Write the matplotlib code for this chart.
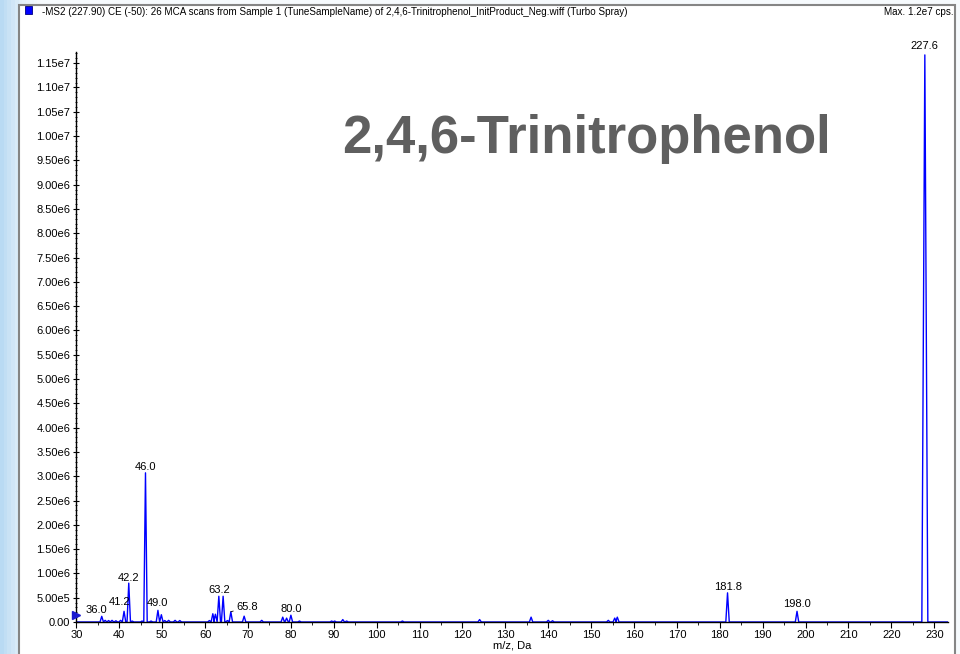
import numpy as np
import matplotlib
matplotlib.use('Agg')
import matplotlib.pyplot as plt
from matplotlib.ticker import MultipleLocator, FuncFormatter
from matplotlib.patches import Rectangle

plt.rcParams['font.family'] = ['Liberation Sans', 'DejaVu Sans']

# Picos do espectro (m/z, intensidade em cps)
pico_mz = [35.9, 36.7, 37.5, 38.3, 39.2, 40.3, 41.1, 42.2, 43.0, 45.3, 46.1, 47.4,
           49.0, 49.8, 50.6, 51.5, 53.0, 54.1, 61.0, 61.8, 62.4, 63.2, 64.2, 65.2,
           66.0, 69.1, 73.2, 78.1, 79.0, 80.0, 82.0, 89.5, 90.2, 92.1, 93.0, 106.0,
           124.0, 136.0, 140.0, 141.0, 154.0, 155.5, 156.1, 181.8, 198.0, 227.8]
pico_int = [1.17e5, 3.4e4, 3.0e4, 3.4e4, 2.5e4, 3.4e4, 2.2e5, 8.0e5, 2.0e4, 2.0e4, 3.07e6, 2.0e4,
            2.4e5, 1.5e5, 3.0e4, 3.4e4, 3.4e4, 3.0e4, 3.0e4, 1.7e5, 1.6e5, 5.3e5, 5.3e5, 3.0e4,
            2.1e5, 1.2e5, 3.4e4, 1.0e5, 8.0e4, 1.4e5, 2.0e4, 2.0e4, 2.0e4, 5.0e4, 2.0e4, 2.0e4,
            5.0e4, 1.0e5, 3.4e4, 2.5e4, 3.4e4, 8.0e4, 1.0e5, 6.0e5, 2.2e5, 1.167e7]
# meia largura de cada pico (Da)
pico_larg = [0.4] * 45 + [0.7]

# Rótulos dos picos
rotulos = ['36.0', '41.2', '42.2', '46.0', '49.0', '63.2', '65.8', '80.0', '181.8', '198.0', '227.6']
rotulo_mz = [35.9, 41.1, 42.2, 46.1, 49.0, 63.2, 66.0, 80.0, 181.8, 198.0, 227.8]
# deslocamento dos rótulos (pixels)
desloc = {'36.0': (-5, 1), '41.2': (-4, 4), '42.2': (0, 0), '46.0': (0, 1), '49.0': (0, 2),
          '63.2': (0, 1), '65.8': (16, 0), '80.0': (0, 1), '181.8': (1, 1), '198.0': (0, 2),
          '227.6': (0, 4)}

titulo = ('-MS2 (227.90) CE (-50): 26 MCA scans from Sample 1 (TuneSampleName) of '
          '2,4,6-Trinitrophenol_InitProduct_Neg.wiff (Turbo Spray)')

# Montar o traço de perfil
xs = [29.9]
ys = [0.0]
for mz, h, w in zip(pico_mz, pico_int, pico_larg):
    xs += [mz - w, mz, mz + w]
    ys += [0.0, h, 0.0]
xs.append(233.2)
ys.append(0.0)

fig = plt.figure(figsize=(9.6, 6.54), dpi=100)

# Fundo azul (slide)
bg = fig.add_axes([0, 0, 1, 1], zorder=-10)
grad = np.linspace(0, 1, 256).reshape(1, -1)
cmap = matplotlib.colors.LinearSegmentedColormap.from_list('fundo', ['#b9daf3', '#e2f0fa', '#f6fafd'])
bg.imshow(grad, aspect='auto', cmap=cmap, extent=[0, 1, 0, 1], vmin=0, vmax=0.04)
bg.set_xlim(0, 1)
bg.set_ylim(0, 1)
bg.axis('off')
bg.add_patch(Rectangle((19 / 960, -0.01), (955 - 19) / 960, 1 - 5 / 654 + 0.01,
                       facecolor='white', edgecolor='#858585', linewidth=1.5))
bg.add_patch(Rectangle((25 / 960, 1 - 14 / 654), 7 / 960, 8 / 654,
                       facecolor='#0000ff', edgecolor='#000080', linewidth=0.6))
fig.text(42 / 960, 1 - 12 / 654, titulo, fontsize=7.1, va='center', ha='left')
fig.text(954 / 960, 1 - 12 / 654, 'Max. 1.2e7 cps.', fontsize=7.1, va='center', ha='right')

ax = fig.add_axes([76 / 960, 1 - 622 / 654, (948 - 76) / 960, (622 - 52) / 654])
ax.patch.set_alpha(0)
ax.plot(xs, ys, color='#0000ff', linewidth=1.0, zorder=2)
ax.set_xlim(29.9, 233.2)
ax.set_ylim(0, 1.173e7)

for s in ['top', 'right']:
    ax.spines[s].set_visible(False)
for s in ['left', 'bottom']:
    ax.spines[s].set_linewidth(1.0)

ax.xaxis.set_major_locator(MultipleLocator(10))
ax.xaxis.set_minor_locator(MultipleLocator(5))
ax.yaxis.set_major_locator(MultipleLocator(5e5))
ax.yaxis.set_minor_locator(MultipleLocator(1e5))


def fmt_y(v, pos):
    if v == 0:
        return '0.00'
    return f'{v:.2e}'.replace('e+0', 'e').replace('e+', 'e')


ax.yaxis.set_major_formatter(FuncFormatter(fmt_y))
ax.tick_params(axis='both', which='major', labelsize=8, length=4, width=0.8, pad=2)
ax.tick_params(axis='both', which='minor', length=2, width=0.6)
ax.tick_params(axis='y', which='both', direction='inout')
ax.set_xlabel('m/z, Da', fontsize=8, labelpad=0)

# Marcador do precursor
ax.plot([29.9], [1.44e5], marker='>', markersize=6, color='#1a1ad0', clip_on=False, zorder=5)

for r, mz in zip(rotulos, rotulo_mz):
    h = pico_int[pico_mz.index(mz)]
    dx, dy = desloc[r]
    if r == '65.8':
        ax.annotate(r, xy=(mz, h), xytext=(dx, dy), textcoords='offset pixels',
                    ha='center', va='bottom', fontsize=8,
                    arrowprops=dict(arrowstyle='-', color='black', lw=0.6, shrinkA=0, shrinkB=2))
    else:
        ax.annotate(r, xy=(mz, h), xytext=(dx, dy), textcoords='offset pixels',
                    ha='center', va='bottom', fontsize=8)

fig.text(342 / 960, 1 - 153 / 654, '2,4,6-Trinitrophenol', fontsize=38, fontweight='bold',
         color='#5f5f5f', ha='left', va='baseline')

fig.savefig('out.png', dpi=100)
